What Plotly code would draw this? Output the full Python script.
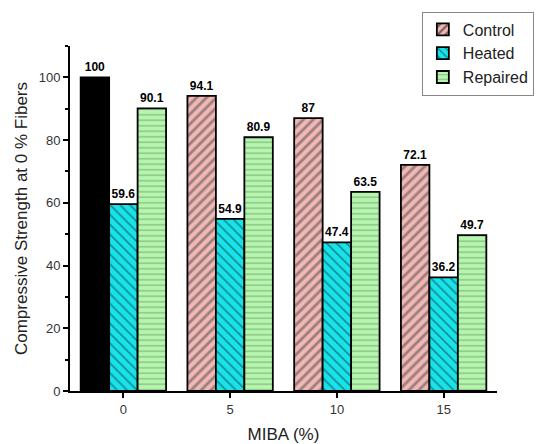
import plotly.graph_objects as go

categories = ["0", "5", "10", "15"]
control = [100, 94.1, 87, 72.1]
heated = [59.6, 54.9, 47.4, 36.2]
repaired = [90.1, 80.9, 63.5, 49.7]

pink = "#F2B8B5"
cyan = "#19E3EA"
green = "#B5F5AE"
label_font = dict(size=12, color="black", family="Arial")

fig = go.Figure()
# legend-only entry for Control (first bar in the data is drawn black)
fig.add_trace(go.Bar(
    name="Control", x=[categories[0]], y=[None], offsetgroup="c",
    marker=dict(color=pink, line=dict(color="black", width=1.8),
                pattern=dict(shape="/", fgcolor="black", size=7, solidity=0.4)),
    hoverinfo="skip",
))
fig.add_trace(go.Bar(
    name="Control", x=categories, y=control, offsetgroup="c", showlegend=False,
    marker=dict(color=["black", pink, pink, pink],
                line=dict(color="black", width=1.8),
                pattern=dict(shape=["", "/", "/", "/"], fgcolor="black", size=7, solidity=0.4)),
    text=[f"<b>{v:g}</b>" for v in control], textposition="outside",
    textfont=label_font, cliponaxis=False,
))
fig.add_trace(go.Bar(
    name="Heated", x=categories, y=heated, offsetgroup="h",
    marker=dict(color=cyan, line=dict(color="black", width=1.8),
                pattern=dict(shape="\\", fgcolor="#0A2020", size=7, solidity=0.22)),
    text=[f"<b>{v:g}</b>" for v in heated], textposition="outside",
    textfont=label_font, cliponaxis=False,
))
fig.add_trace(go.Bar(
    name="Repaired", x=categories, y=repaired, offsetgroup="r",
    marker=dict(color=green, line=dict(color="black", width=1.8),
                pattern=dict(shape="-", fgcolor="#46744A", size=5.5, solidity=0.2)),
    text=[f"<b>{v:g}</b>" for v in repaired], textposition="outside",
    textfont=label_font, cliponaxis=False,
))

fig.update_layout(
    width=542, height=444,
    margin=dict(l=70, r=45, t=46, b=53, autoexpand=False),
    paper_bgcolor="white", plot_bgcolor="white",
    barmode="group", bargap=0.2, bargroupgap=0,
    font=dict(family="Arial", color="#333333"),
    showlegend=True,
    legend=dict(x=0.824, y=1.10, xanchor="left", yanchor="top",
                bordercolor="#888888", borderwidth=1, bgcolor="white",
                font=dict(size=16, color="#222222"), itemwidth=30,
                tracegroupgap=0),
    xaxis=dict(title=dict(text="MIBA (%)", font=dict(size=17, color="#222222"), standoff=14),
               showline=True, linecolor="black", linewidth=2,
               ticks="outside", tickcolor="black", tickwidth=1.5, ticklen=5,
               tickfont=dict(size=13, color="#333333"),
               minor=dict(ticks="outside", ticklen=3, tickcolor="black", tickwidth=1.5),
               range=[-0.5, 3.5], showgrid=False),
    yaxis=dict(title=dict(text="Compressive Strength at 0 % Fibers", font=dict(size=17, color="#222222"), standoff=7),
               showline=True, linecolor="black", linewidth=2,
               ticks="outside", tickcolor="black", tickwidth=1.5, ticklen=5,
               tickfont=dict(size=13, color="#333333"),
               dtick=20, minor=dict(dtick=10, ticks="outside", ticklen=3, tickcolor="black", tickwidth=1.5),
               range=[0, 110], showgrid=False, zeroline=False),
)

fig.write_html("out.html")
